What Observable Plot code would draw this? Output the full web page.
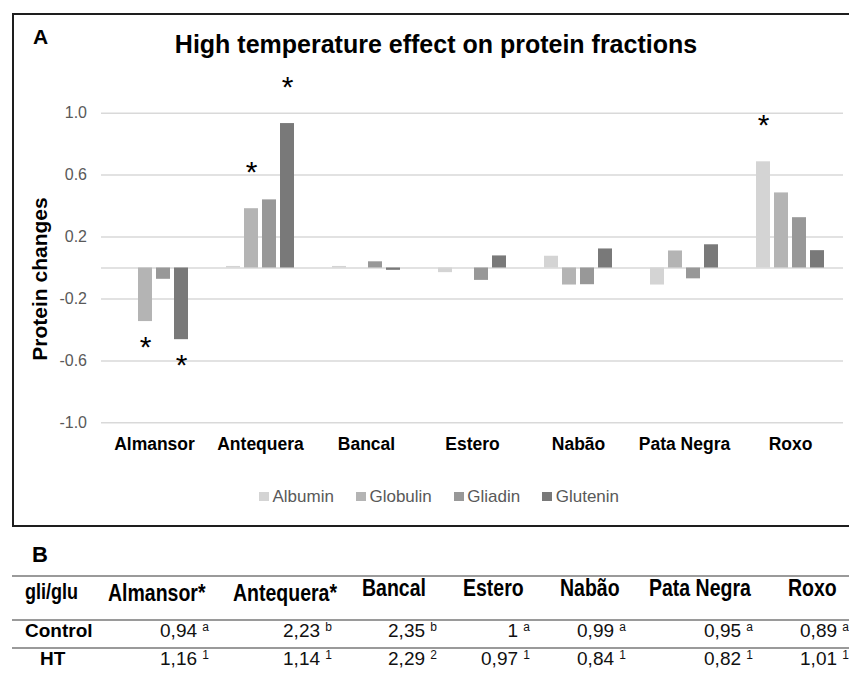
<!DOCTYPE html>
<html><head><meta charset="utf-8">
<script src="https://cdn.jsdelivr.net/npm/d3@7"></script>
<script src="https://cdn.jsdelivr.net/npm/@observablehq/plot@0.6"></script>
<style>
body{margin:0;background:#fff;font-family:"Liberation Sans",Arial,sans-serif;}
#wrap{position:relative;width:849px;height:677px;overflow:hidden;background:#fff;}
.abs{position:absolute;white-space:nowrap;line-height:1;}
</style></head><body><div id="wrap"></div>
<script>
// ---------- data ----------
const categories = ["Almansor","Antequera","Bancal","Estero","Nabão","Pata Negra","Roxo"];
const series = ["Albumin","Globulin","Gliadin","Glutenin"];
const albumin  = [0.0,   0.01,  0.01,  -0.03,  0.076, -0.11,  0.686];
const globulin = [-0.346,0.383, 0.0,   0.0,   -0.11,   0.11,  0.485];
const gliadin  = [-0.073,0.44,  0.04,  -0.08, -0.108, -0.07,  0.325];
const glutenin = [-0.463,0.933,-0.015,  0.078, 0.123,  0.15,  0.112];
const significant = [["Almansor","Globulin"],["Almansor","Glutenin"],["Antequera","Globulin"],["Antequera","Glutenin"],["Roxo","Albumin"]];
const yTicks = [-1.0,-0.6,-0.2,0.2,0.6,1.0];
const seriesColors = ["#d4d4d4","#b4b4b4","#989898","#797979"];
const titleText = "High temperature effect on protein fractions";
const yLabel = "Protein changes";

// table B
const tableCorner = "gli/glu";
const tableStarred = [true,true,false,false,false,false,false];
const rowLabels = ["Control","HT"];
const controlValues = [0.94,2.23,2.35,1,0.99,0.95,0.89];
const controlLetters = ["a","b","b","a","a","a","a"];
const htValues = [1.16,1.14,2.29,0.97,0.84,0.82,1.01];
const htGroups = ["1","1","2","1","1","1","1"];

// ---------- layout ----------
const wrap = document.getElementById("wrap");
function place(html, x, baseline, fs, css, align, scaleY){
  const d = document.createElement("div");
  d.className = "abs";
  d.innerHTML = html;
  d.style.fontSize = fs + "px";
  d.style.top = (baseline - 0.8465*fs) + "px";
  if (align === "right") { d.style.right = (849 - x) + "px"; }
  else if (align === "center") { d.style.left = (x - 500) + "px"; d.style.width = "1000px"; d.style.textAlign = "center"; }
  else d.style.left = x + "px";
  if (css) d.style.cssText += css;
  if (scaleY) { d.style.transformOrigin = `0 ${0.8465*fs}px`; d.style.transform = `scaleY(${scaleY})`; }
  wrap.appendChild(d);
  return d;
}

// ---------- chart ----------
const rows = [];
const seriesValues = [albumin, globulin, gliadin, glutenin];
categories.forEach((c,i) => series.forEach((s,j) => rows.push({category:c, series:s, value:seriesValues[j][i]})));
const stars = significant.map(([c,s]) => rows.find(r => r.category === c && r.series === s));

const chart = Plot.plot({
  width: 849, height: 462,
  marginLeft: 100, marginRight: 6, marginTop: 112.7, marginBottom: 39.7,
  style: {fontFamily: "'Liberation Sans', Arial, sans-serif", background: "transparent", overflow: "visible"},
  fx: {domain: categories, padding: 0},
  x: {domain: series, paddingInner: 0.21, paddingOuter: 0.9, axis: null},
  y: {domain: [-1, 1]},
  color: {domain: series, range: seriesColors},
  marks: [
    Plot.gridY(yTicks, {stroke: "#d9d9d9", strokeOpacity: 1, strokeWidth: 1.5}),
    Plot.ruleY([0], {stroke: "#d9d9d9", strokeWidth: 1.5}),
    Plot.barY(rows, {fx: "category", x: "series", y: "value", fill: "series"}),
    Plot.text(stars.filter(d => d.value > 0), {fx: "category", x: "series", y: "value", text: () => "*", fontSize: 30, lineAnchor: "middle", dy: -36, fill: "#000"}),
    Plot.text(stars.filter(d => d.value < 0), {fx: "category", x: "series", y: "value", text: () => "*", fontSize: 30, lineAnchor: "middle", dy: 26, fill: "#000"}),
    Plot.axisY({ticks: yTicks, tickFormat: d => d.toFixed(1), tickSize: 0, tickPadding: 14.5, fontSize: 16, color: "#595959", label: null}),
    Plot.axisFx({anchor: "bottom", tickSize: 0, tickPadding: 14.6, fontSize: 17.5, fontWeight: "bold", color: "#000", label: null})
  ]
});
chart.style.position = "absolute";
chart.style.left = "0px";
chart.style.top = "0px";
wrap.appendChild(chart);

// frame around panel A
const frame = document.createElement("div");
frame.style.cssText = "position:absolute;left:12px;top:12.5px;width:860px;height:514px;border:2px solid #1e1e1e;box-sizing:border-box;pointer-events:none;";
wrap.appendChild(frame);

// titles
place("A", 33, 43.3, 21, "font-weight:bold;color:#000;");
place(titleText, 436, 53.3, 25, "font-weight:bold;color:#000;", "center");
const yl = document.createElement("div");
yl.className = "abs";
yl.textContent = yLabel;
yl.style.cssText += "font-size:21px;font-weight:bold;left:39.3px;top:278.5px;transform:translate(-50%,-50%) rotate(-90deg);";
wrap.appendChild(yl);

// legend
const leg = document.createElement("div");
leg.style.cssText = "position:absolute;left:259px;top:486.5px;display:flex;gap:22px;font-size:17px;color:#595959;line-height:20px;";
series.forEach((s,i) => {
  const it = document.createElement("div");
  it.style.cssText = "display:flex;align-items:center;";
  it.innerHTML = `<span style="display:inline-block;width:10px;height:9px;background:${seriesColors[i]};margin-right:3.5px;"></span><span>${s}</span>`;
  leg.appendChild(it);
});
wrap.appendChild(leg);

// ---------- table B ----------
place("B", 32, 563, 22, "font-weight:bold;color:#000;");
[575, 619, 647].forEach(t => {
  const r = document.createElement("div");
  r.style.cssText = `position:absolute;left:12px;top:${t}px;width:840px;height:2px;background:#9a9a9a;`;
  wrap.appendChild(r);
});
const headerLeft = [108, 233, 362, 463, 560, 649, 788];
const headerBase = [601.5, 601.5, 596.5, 596.5, 596.5, 596.5, 596.5];
const valueRight = [209, 332, 437, 530, 626, 753, 849];
const fmt = v => String(v).replace(".", ",");
place(tableCorner, 25, 599, 18, "font-weight:bold;color:#000;", null, 1.2);
categories.forEach((c,i) => {
  place(c + (tableStarred[i] ? "*" : ""), headerLeft[i], headerBase[i], 19.5, "font-weight:bold;color:#000;", null, 1.2);
  place(`${fmt(controlValues[i])} <span style="font-size:12px;position:relative;top:-6px;">${controlLetters[i]}</span>`, valueRight[i], 637.5, 19, "color:#111;", "right");
  place(`${fmt(htValues[i])} <span style="font-size:12px;position:relative;top:-6px;">${htGroups[i]}</span>`, valueRight[i], 665.5, 19, "color:#111;", "right");
});
place(rowLabels[0], 25, 637.5, 19, "font-weight:bold;color:#000;");
place(rowLabels[1], 40, 665.5, 19, "font-weight:bold;color:#000;");
</script></body></html>
